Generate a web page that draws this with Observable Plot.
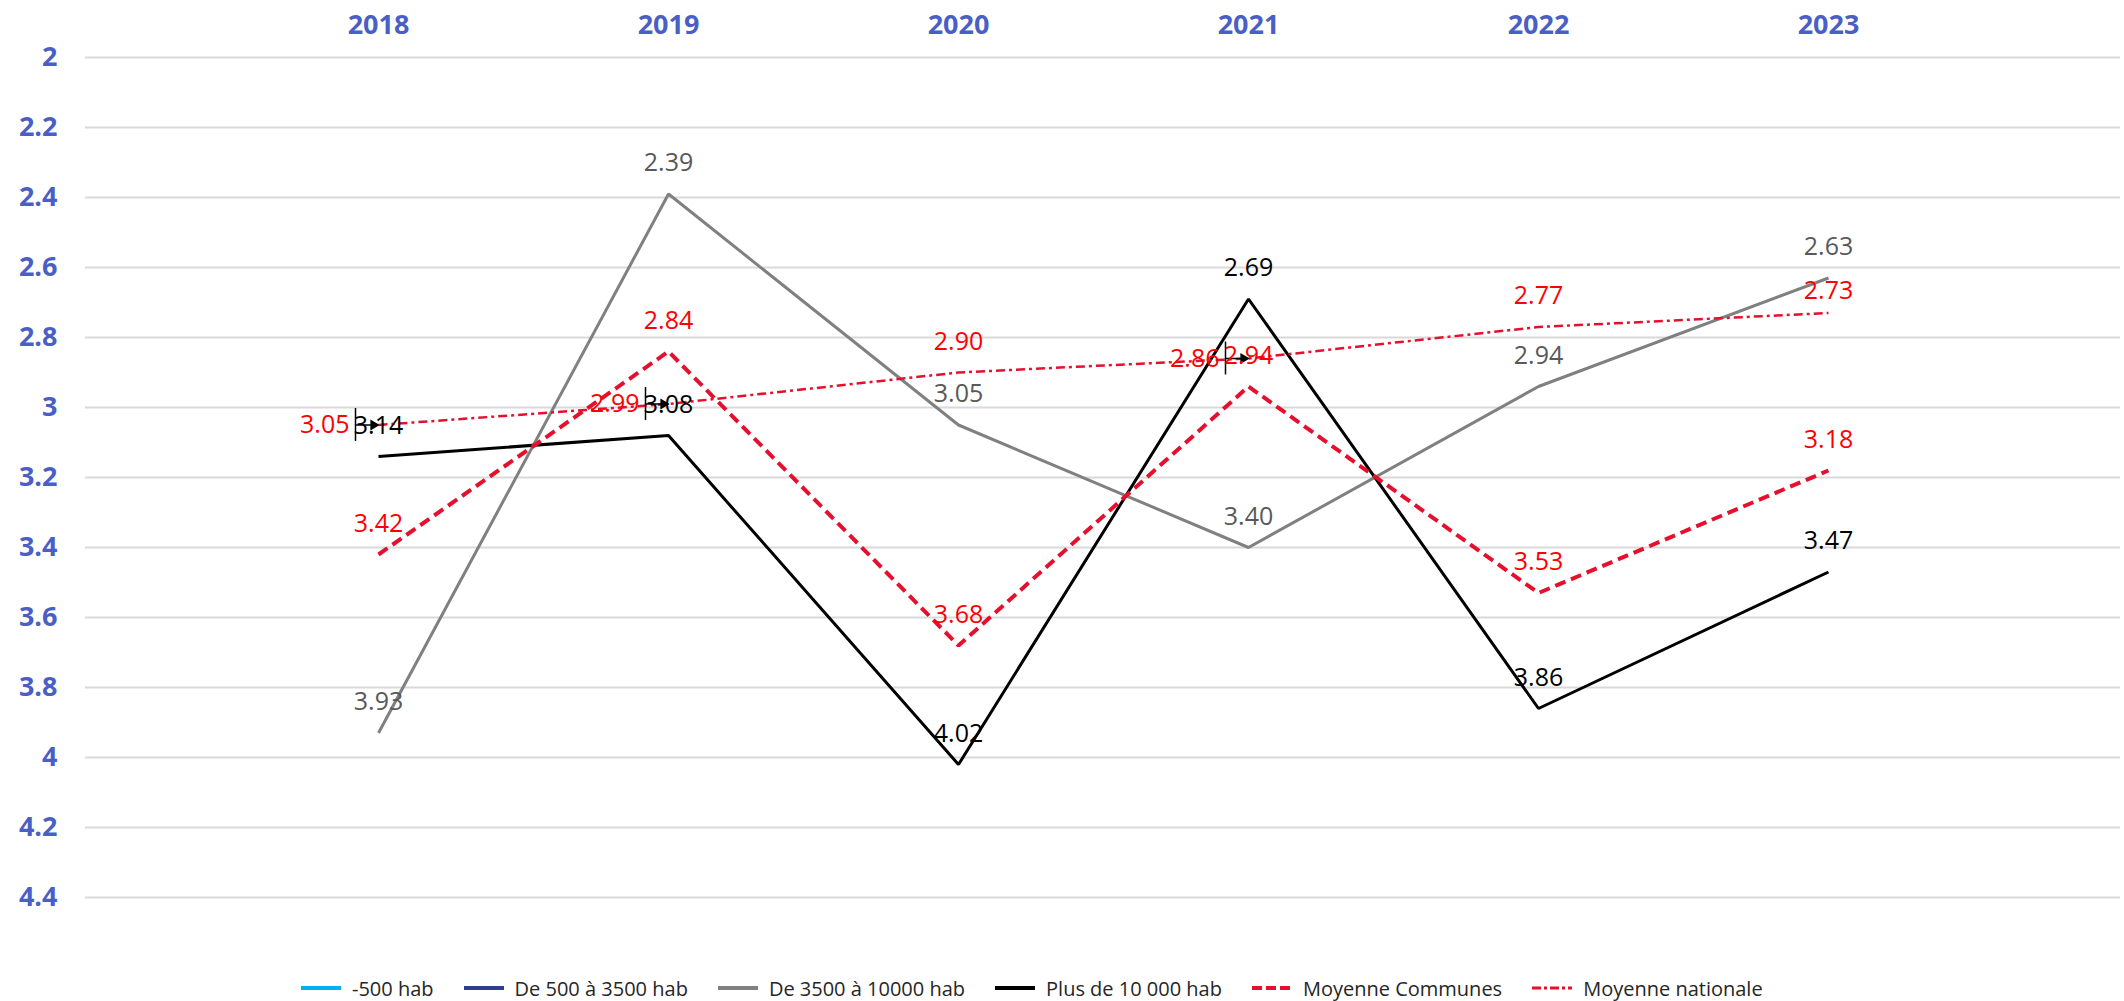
<!DOCTYPE html>
<html>
<head>
<meta charset="utf-8">
<script src="https://cdn.jsdelivr.net/npm/d3@7"></script>
<script src="https://cdn.jsdelivr.net/npm/@observablehq/plot@0.6"></script>
<style>
  html, body { margin: 0; padding: 0; background: #fff; overflow: hidden; }
  #chart { width: 2124px; }
  #legend {
    width: 2124px; height: 33px; padding-top: 7px; padding-left: 301px; box-sizing: border-box;
    display: flex; justify-content: flex-start; align-items: center; gap: 30px;
    font-family: "Open Sans", sans-serif; font-size: 20px; color: #262626;
  }
  .item { display: flex; align-items: center; gap: 11px; white-space: nowrap; }
  .item svg { display: block; }
</style>
</head>
<body>
<div id="chart"></div>
<div id="legend"></div>
<script>
// ---- data ----
const years = ["2018", "2019", "2020", "2021", "2022", "2023"];
const seriesNames = ["-500 hab", "De 500 à 3500 hab", "De 3500 à 10000 hab", "Plus de 10 000 hab", "Moyenne Communes", "Moyenne nationale"];
const de3500a10000 = [3.93, 2.39, 3.05, 3.40, 2.94, 2.63];
const plus10000 = [3.14, 3.08, 4.02, 2.69, 3.86, 3.47];
const moyenneCommunes = [3.42, 2.84, 3.68, 2.94, 3.53, 3.18];
const moyenneNationale = [3.05, 2.99, 2.90, 2.86, 2.77, 2.73];
const yTicks = [2, 2.2, 2.4, 2.6, 2.8, 3, 3.2, 3.4, 3.6, 3.8, 4, 4.2, 4.4];
const yTickLabels = ["2", "2.2", "2.4", "2.6", "2.8", "3", "3.2", "3.4", "3.6", "3.8", "4", "4.2", "4.4"];

// ---- styles ----
const axisBlue = "#4a5fc6";
const colors = ["#00b0f0", "#2f3e8e", "#808080", "#000000", "#e4102e", "#e4102e"];
const labelColors = {gray: "#595959", black: "#000000", red: "#ff0000"};

const rows = arr => years.map((year, i) => ({year, value: arr[i]}));
const grayRows = rows(de3500a10000);
const blackRows = rows(plus10000);
const communesRows = rows(moyenneCommunes);
const nationaleRows = rows(moyenneNationale);
const leftYears = new Set(["2018", "2019", "2021"]);
const natLeft = nationaleRows.filter(d => leftYears.has(d.year));
const natAbove = nationaleRows.filter(d => !leftYears.has(d.year));
const natDy = {"2023": -22};
const fmt = d3.format(".2f");
const labelFont = {fontSize: 25, fontFamily: "Open Sans"};

const chart = Plot.plot({
  width: 2124,
  height: 968,
  marginTop: 57,
  marginBottom: 71,
  marginLeft: 85,
  marginRight: 4,
  style: {fontFamily: "Open Sans", background: "#fff"},
  x: {type: "point", domain: years, padding: 1, axis: null, label: null},
  y: {domain: [2, 4.4], reverse: true, axis: null, label: null},
  marks: [
    Plot.gridY(yTicks, {stroke: "#d9d9d9", strokeOpacity: 1, strokeWidth: 2}),
    Plot.axisY(yTicks, {tickSize: 0, tickPadding: 28, fontSize: 27, fontWeight: "bold", color: axisBlue, label: null,
      tickFormat: d => yTickLabels[yTicks.indexOf(d)]}),
    Plot.axisX({anchor: "top", tickSize: 0, tickPadding: 24, fontSize: 27, fontWeight: "bold", color: axisBlue, label: null}),
    Plot.line(grayRows, {x: "year", y: "value", stroke: colors[2], strokeWidth: 3, strokeLinejoin: "miter", strokeLinecap: "butt"}),
    Plot.line(blackRows, {x: "year", y: "value", stroke: colors[3], strokeWidth: 3, strokeLinejoin: "miter", strokeLinecap: "butt"}),
    Plot.line(communesRows, {x: "year", y: "value", stroke: colors[4], strokeWidth: 4, strokeDasharray: "11,6", strokeLinejoin: "miter", strokeLinecap: "butt"}),
    Plot.line(nationaleRows, {x: "year", y: "value", stroke: colors[5], strokeWidth: 2.5, strokeDasharray: "9,4,3,4", strokeLinecap: "butt"}),
    // leader lines (callouts) for the national labels moved to the left
    Plot.ruleX(natLeft, {x: "year", y1: d => d.value - 0.047, y2: d => d.value + 0.047, dx: -23, stroke: "#000", strokeWidth: 1.5}),
    Plot.vector(natLeft, {x: "year", y: "value", length: 20, rotate: 90, anchor: "end", shape: "spike", r: 0, stroke: "#000", strokeWidth: 1.5, dx: -3}),
    Plot.dot(natLeft, {x: "year", y: "value", symbol: "triangle", rotate: 90, r: 4, fill: "#000", stroke: "none", dx: -5}),
    // data labels
    Plot.text(grayRows, {x: "year", y: "value", text: d => fmt(d.value), dy: -31, fill: labelColors.gray, ...labelFont}),
    Plot.text(blackRows, {x: "year", y: "value", text: d => fmt(d.value), dy: -31, fill: labelColors.black, ...labelFont}),
    Plot.text(communesRows, {x: "year", y: "value", text: d => fmt(d.value), dy: -31, fill: labelColors.red, ...labelFont}),
    ...natAbove.map(d => Plot.text([d], {x: "year", y: "value", text: r => fmt(r.value), dy: natDy[d.year] ?? -31, fill: labelColors.red, ...labelFont})),
    Plot.text(natLeft, {x: "year", y: "value", text: d => fmt(d.value), textAnchor: "end", dx: -29, fill: labelColors.red, ...labelFont})
  ]
});
document.getElementById("chart").appendChild(chart);

// ---- legend ----
const dashes = [null, null, null, null, "10,4", "9,3,3,3"];
const widths = [4, 4, 4, 4, 4, 3];
const legend = document.getElementById("legend");
seriesNames.forEach((name, i) => {
  const item = document.createElement("div");
  item.className = "item";
  const dash = dashes[i] ? ` stroke-dasharray="${dashes[i]}"` : "";
  item.innerHTML = `<svg width="40" height="8"><line x1="0" x2="40" y1="4" y2="4" stroke="${colors[i]}" stroke-width="${widths[i]}"${dash}/></svg><span>${name}</span>`;
  legend.appendChild(item);
});
</script>
</body>
</html>
